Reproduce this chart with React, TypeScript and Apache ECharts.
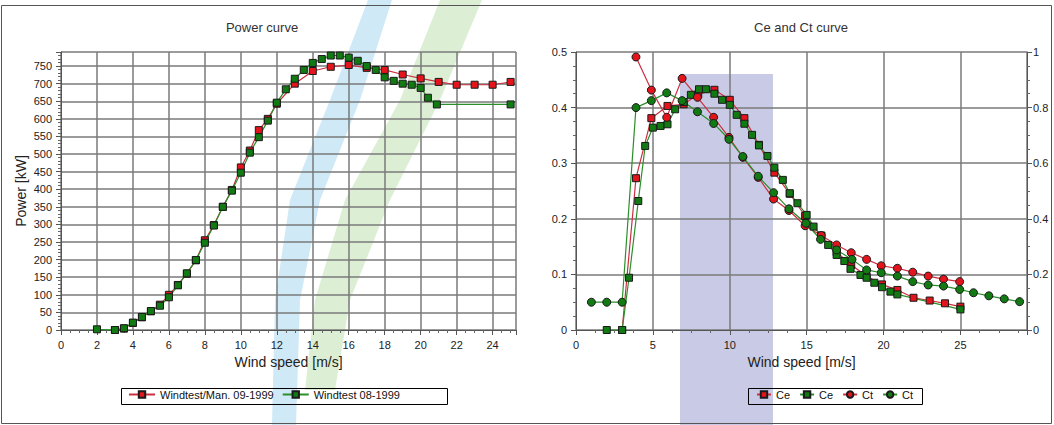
import React, { useEffect, useRef } from "react";
import * as echarts from "echarts";

// ---- Power curve data ----
const windRed = [3, 3.5, 4, 4.5, 5, 5.5, 6, 6.5, 7, 7.5, 8, 8.5, 9, 9.5, 10, 10.5, 11, 11.5, 12, 13, 14, 15, 16, 17, 18, 19, 20, 21, 22, 23, 24, 25];
const powerRed = [0, 4, 20, 36, 53, 72, 100, 128, 160, 198, 255, 298, 350, 398, 462, 510, 568, 600, 643, 700, 736, 748, 753, 745, 739, 726, 715, 705, 697, 697, 697, 705];
const windGreen = [2, 3, 3.5, 4, 4.5, 5, 5.5, 6, 6.5, 7, 7.5, 8, 8.5, 9, 9.5, 10, 10.5, 11, 11.5, 12, 12.5, 13, 13.5, 14, 14.5, 15, 15.5, 16, 16.5, 17, 17.5, 18, 18.5, 19, 19.5, 20, 20.4, 20.9, 25];
const powerGreen = [2, 0, 5, 21, 37, 54, 69, 93, 127, 161, 199, 248, 297, 350, 396, 447, 504, 548, 595, 646, 684, 714, 739, 759, 770, 780, 780, 774, 765, 750, 739, 718, 708, 700, 697, 688, 660, 641, 641];

// ---- Ce / Ct data ----
const ceRedWind = [3, 3.9, 4.9, 5.95, 7, 7.95, 9, 10, 10.95, 11.9, 12.9, 13.9, 14.9, 15.95, 16.95, 17.9, 18.9, 19.9, 20.9, 21.95, 23, 24, 25];
const ceRed = [0, 0.273, 0.381, 0.403, 0.406, 0.424, 0.432, 0.414, 0.381, 0.333, 0.283, 0.245, 0.205, 0.169, 0.14, 0.117, 0.097, 0.082, 0.072, 0.058, 0.053, 0.048, 0.042];
const ceGreenWind = [2, 3, 3.45, 4.05, 4.5, 5, 5.5, 5.95, 6.45, 7, 7.47, 8, 8.45, 9, 9.5, 10, 10.45, 10.95, 11.45, 11.9, 12.45, 12.9, 13.45, 13.9, 14.4, 15, 15.45, 15.95, 16.4, 16.95, 17.45, 17.85, 18.5, 18.9, 19.4, 19.9, 20.45, 20.9, 25];
const ceGreen = [0, 0, 0.094, 0.232, 0.331, 0.364, 0.367, 0.37, 0.397, 0.41, 0.423, 0.433, 0.433, 0.425, 0.414, 0.405, 0.387, 0.371, 0.351, 0.332, 0.313, 0.292, 0.27, 0.246, 0.228, 0.207, 0.186, 0.17, 0.153, 0.135, 0.124, 0.11, 0.099, 0.094, 0.085, 0.077, 0.069, 0.064, 0.037];
const ctRedWind = [3.9, 4.9, 5.9, 6.9, 7.9, 8.95, 9.95, 10.85, 11.85, 12.85, 13.85, 14.9, 15.95, 16.95, 17.9, 18.9, 19.85, 20.9, 21.9, 22.9, 23.9, 24.95];
const ctRed = [0.982, 0.863, 0.765, 0.905, 0.837, 0.765, 0.693, 0.621, 0.549, 0.471, 0.43, 0.375, 0.34, 0.306, 0.278, 0.254, 0.231, 0.222, 0.208, 0.194, 0.183, 0.174];
const ctGreenWind = [1, 2, 3, 3.9, 4.9, 5.9, 6.9, 7.9, 8.95, 9.95, 10.85, 11.85, 12.85, 13.85, 14.95, 15.9, 16.95, 17.95, 18.9, 19.85, 20.9, 21.9, 22.9, 23.9, 24.95, 25.85, 26.85, 27.85, 28.85];
const ctGreen = [0.1, 0.1, 0.1, 0.8, 0.825, 0.853, 0.825, 0.785, 0.743, 0.686, 0.624, 0.553, 0.494, 0.436, 0.384, 0.326, 0.288, 0.254, 0.216, 0.206, 0.194, 0.174, 0.162, 0.158, 0.146, 0.134, 0.123, 0.112, 0.102];

const powerNames = ["Windtest/Man. 09-1999", "Windtest 08-1999"];
const coefNames = ["Ce", "Ce ", "Ct", "Ct "];

const zip = (xs: number[], ys: number[]) => xs.map((x, i) => [x, ys[i]]);

const FONT = "'Liberation Sans', Arial, sans-serif";
const RED = "#e3141c";
const RED_LINE = "#cc3040";
const GREEN = "#127a12";
const GREEN_LINE = "#2a8f2a";

export default function App() {
  const ref = useRef<HTMLDivElement>(null);
  useEffect(() => {
    document.body.style.margin = "0";
    const chart = echarts.init(ref.current!, null, { renderer: "svg" });

    const labelStyle = { fontSize: 11, color: "#222", fontFamily: FONT };
    const axisLine = { show: true, lineStyle: { color: "#555", width: 1 } };
    const split = { show: true, lineStyle: { color: "#7a7a7a", width: 1.5 } };
    const tick = { show: true, length: 5, lineStyle: { color: "#555" } };
    const minor = (n: number) => ({ show: true, splitNumber: n, length: 3, lineStyle: { color: "#666" } });
    const nameStyle = { fontSize: 14, color: "#222", fontFamily: FONT };

    const line = (name: string, data: number[][], xi: number, yi: number, color: string, lineColor: string, symbol: string, size: number) => ({
      name,
      type: "line",
      xAxisIndex: xi,
      yAxisIndex: yi,
      data,
      symbol,
      symbolSize: size,
      showAllSymbol: true,
      lineStyle: { color: lineColor, width: 1.2 },
      itemStyle: { color, borderColor: "#1a1a1a", borderWidth: 1 },
      emphasis: { disabled: true },
    });

    const option: any = {
      animation: false,
      backgroundColor: "#ffffff",
      textStyle: { fontFamily: FONT },
      graphic: [
        { type: "polygon", z: -10, silent: true, shape: { points: [[368, 0], [330, 100], [290, 200], [275, 300], [272, 425], [296, 425], [300, 300], [320, 200], [360, 100], [392, 0]] }, style: { fill: "#cfe9f7" } },
        { type: "polygon", z: -10, silent: true, shape: { points: [[440, 0], [400, 100], [345, 200], [315, 300], [305, 390], [335, 390], [350, 300], [390, 200], [440, 100], [482, 0]] }, style: { fill: "#dcefd5" } },
        { type: "rect", z: -10, silent: true, shape: { x: 680, y: 74, width: 93, height: 351 }, style: { fill: "#c9cbe6" } },
        { type: "rect", z: 5, silent: true, shape: { x: 1.5, y: 5.5, width: 1050, height: 418 }, style: { fill: "none", stroke: "#555", lineWidth: 1 } },
        { type: "text", x: 262, y: 27, style: { text: "Power curve", align: "center", verticalAlign: "middle", font: `13px ${FONT}`, fill: "#333" } },
        { type: "text", x: 801, y: 27, style: { text: "Ce and Ct curve", align: "center", verticalAlign: "middle", font: `13px ${FONT}`, fill: "#333" } },
        { type: "rect", shape: { x: 121.5, y: 388.5, width: 326, height: 16 }, style: { fill: "none", stroke: "#000", lineWidth: 1 } },
        { type: "rect", shape: { x: 748.5, y: 388.5, width: 174, height: 16 }, style: { fill: "none", stroke: "#000", lineWidth: 1 } },
      ],
      legend: [
        {
          data: powerNames,
          left: 128,
          top: 389,
          padding: 0,
          itemWidth: 26,
          itemHeight: 8,
          itemGap: 8,
          textStyle: { fontSize: 11, color: "#111", fontFamily: FONT },
          selectedMode: false,
          z: 10,
        },
        {
          data: coefNames,
          left: 756,
          top: 389,
          padding: 0,
          itemWidth: 14,
          itemHeight: 8,
          itemGap: 9,
          formatter: (n: string) => n.trim(),
          textStyle: { fontSize: 11, color: "#111", fontFamily: FONT },
          selectedMode: false,
          z: 10,
        },
      ],
      grid: [
        { left: 61, top: 52, width: 455, height: 278 },
        { left: 576, top: 52, width: 451, height: 278 },
      ],
      xAxis: [
        {
          type: "value", gridIndex: 0, min: 0, max: 25.3, interval: 2,
          axisLine, axisTick: tick, minorTick: minor(4), splitLine: split,
          axisLabel: { ...labelStyle, margin: 9, showMaxLabel: false, formatter: (v: number) => (v % 2 === 0 ? String(v) : "") },
          name: "Wind speed [m/s]", nameLocation: "middle", nameGap: 24, nameTextStyle: nameStyle,
        },
        {
          type: "value", gridIndex: 1, min: 0, max: 29.33, interval: 5,
          axisLine, axisTick: tick, minorTick: minor(4), splitLine: split,
          axisLabel: { ...labelStyle, margin: 9, showMaxLabel: false, formatter: (v: number) => (v % 5 === 0 ? String(v) : "") },
          name: "Wind speed [m/s]", nameLocation: "middle", nameGap: 24, nameTextStyle: nameStyle,
        },
      ],
      yAxis: [
        {
          type: "value", gridIndex: 0, min: 0, max: 790, interval: 50,
          axisLine, axisTick: tick, minorTick: minor(5), splitLine: split,
          axisLabel: { ...labelStyle, margin: 9, showMaxLabel: false, formatter: (v: number) => (v % 50 === 0 ? String(v) : "") },
          name: "Power [kW]", nameLocation: "middle", nameGap: 33, nameRotate: 90, nameTextStyle: nameStyle,
        },
        {
          type: "value", gridIndex: 1, min: 0, max: 0.5, interval: 0.1,
          axisLine, axisTick: tick, minorTick: minor(4), splitLine: split,
          axisLabel: { ...labelStyle, margin: 9 },
        },
        {
          type: "value", gridIndex: 1, position: "right", min: 0, max: 1, interval: 0.2,
          axisLine, axisTick: tick, minorTick: minor(4), splitLine: { show: false },
          axisLabel: { ...labelStyle, margin: 6 },
        },
      ],
      series: [
        line(powerNames[0], zip(windRed, powerRed), 0, 0, RED, RED_LINE, "rect", 7),
        line(powerNames[1], zip(windGreen, powerGreen), 0, 0, GREEN, GREEN_LINE, "rect", 7),
        line(coefNames[0], zip(ceRedWind, ceRed), 1, 1, RED, RED_LINE, "rect", 7),
        line(coefNames[1], zip(ceGreenWind, ceGreen), 1, 1, GREEN, GREEN_LINE, "rect", 7),
        line(coefNames[2], zip(ctRedWind, ctRed), 1, 2, RED, RED_LINE, "circle", 8),
        line(coefNames[3], zip(ctGreenWind, ctGreen), 1, 2, GREEN, GREEN_LINE, "circle", 8),
      ],
    };
    chart.setOption(option);
    return () => chart.dispose();
  }, []);
  return <div ref={ref} style={{ position: "absolute", left: 0, top: 0, width: 1054, height: 425 }} />;
}
